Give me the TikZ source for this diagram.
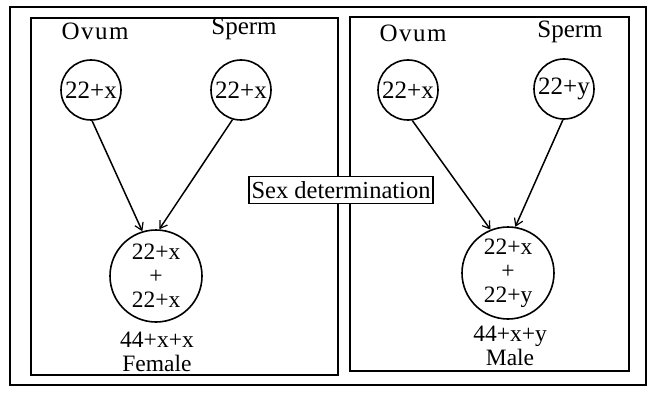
\documentclass[tikz,border=0pt]{standalone}
\usepackage{fontspec}
\setmainfont{Liberation Serif}
\usetikzlibrary{arrows.meta}
\begin{document}
\begin{tikzpicture}[x=1pt,y=-1pt,
  frame/.style={line width=2pt},
  cell/.style={circle,draw,line width=1.6pt,inner sep=0pt,font=\fontsize{25}{26}\selectfont},
  gamete/.style={cell,minimum size=60pt},
  zygote/.style={cell,minimum size=92pt,align=center,font=\fontsize{23.5}{24}\selectfont},
  lbl/.style={inner sep=0pt,font=\fontsize{25}{26}\selectfont,align=center},
  link/.style={line width=1.5pt,-{Straight Barb[length=7pt,width=9pt,line width=1.2pt]}}]
\useasboundingbox (0,0) rectangle (652,398);
\fill[white] (0,0) rectangle (652,398);
% frames
\draw[frame] (10,7) rectangle (646,385);
\draw[frame] (31,18) rectangle (338,375);
\draw[frame] (350,17) rectangle (629,371);
% left panel
\node[lbl] (ovLt) at (95,31) {O\kern1.5pt v\kern1.5pt u\kern1.5pt m};
\node[lbl] (spLt) at (244,29) {Sperm};
\node[gamete] (ovL) at (91,90) {22+x};
\node[gamete] (spL) at (241,90) {22+x};
\node[zygote] (zyL) at (156,276) {22+x\\+\\22+x};
\node[lbl,font=\fontsize{23.5}{24}\selectfont] (fem) at (157,352) {44+x+x\\Female};
\draw[link] (ovL.-88) -- (zyL.107);
\draw[link] (spL.-106) -- (zyL.86);
% right panel
\node[lbl] (ovRt) at (413,33) {O\kern1.5pt v\kern1.5pt u\kern1.5pt m};
\node[lbl] (spRt) at (570,32) {Sperm};
\node[gamete] (ovR) at (408,90) {22+x};
\node[gamete] (spR) at (564,89) {22+y};
\node[zygote] (zyR) at (508,273) {22+x\\+\\22+y};
\node[lbl,font=\fontsize{23.5}{24}\selectfont] (mal) at (510,346) {44+x+y\\Male};
\draw[link] (ovR.-82) -- (zyR.112);
\draw[link] (spR.-92) -- (zyR.81);
% title box
\node[draw,line width=1.5pt,fill=white,inner sep=2pt,font=\fontsize{24.5}{25}\selectfont,minimum width=184pt,minimum height=27pt] (title) at (341,190) {Sex determination};
\end{tikzpicture}
\end{document}
